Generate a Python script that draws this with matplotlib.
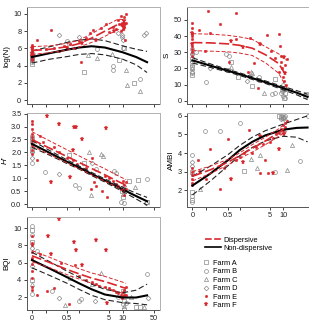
import numpy as np
import matplotlib
matplotlib.use("Agg")
import matplotlib.pyplot as plt
from matplotlib.lines import Line2D

# ---------------- data ----------------
xticks = [0, 0.1, 0.5, 1, 5, 10, 50]
xticklabels = ["0", "", "0.5", "", "5", "10", "50"]
xticklabels_right = ["0", "", "0.5", "", "5", "10", ""]

# fitted curves (distance grid)
grid_nd = [0, 0.15, 0.5, 1, 2, 4, 10, 20, 35]      # non-dispersive
grid_d = [0, 0.15, 0.5, 1, 2, 4, 8, 12]            # dispersive

logN_nd = [5.0, 5.45, 5.85, 6.1, 6.25, 6.1, 5.55, 5.0, 4.4]
logN_nd_hi = [5.7, 6.2, 6.7, 6.95, 7.1, 6.9, 6.3, 5.9, 5.65]
logN_nd_lo = [4.3, 4.75, 5.05, 5.3, 5.4, 5.25, 4.75, 4.1, 3.2]
logN_d = [5.75, 5.9, 6.2, 6.55, 7.2, 8.0, 8.8, 8.7]
logN_d_hi = [6.2, 6.3, 6.6, 6.95, 7.7, 8.6, 9.4, 9.3]
logN_d_lo = [5.3, 5.5, 5.8, 6.15, 6.7, 7.4, 8.2, 8.0]

S_nd = [25.0, 21.7, 18.6, 16.5, 14.0, 11.5, 7.8, 5.0, 2.4]
S_nd_hi = [26.6, 22.8, 19.4, 17.3, 14.8, 12.3, 8.8, 6.3, 4.1]
S_nd_lo = [23.4, 20.6, 17.8, 15.7, 13.2, 10.7, 6.8, 3.7, 0.7]
S_d = [36.0, 35.8, 35.2, 34.3, 32.5, 28.5, 23.0, 15.0]
S_d_hi = [41.5, 41.2, 40.5, 39.5, 38.0, 33.5, 29.0, 25.0]
S_d_lo = [31.0, 30.7, 30.3, 29.5, 28.0, 23.5, 17.0, 8.0]

H_nd = [2.33, 1.98, 1.64, 1.42, 1.17, 0.92, 0.58, 0.32, 0.12]
H_nd_hi = [2.46, 2.07, 1.71, 1.48, 1.23, 0.98, 0.66, 0.43, 0.27]
H_nd_lo = [2.20, 1.89, 1.57, 1.36, 1.11, 0.86, 0.50, 0.21, -0.03]
H_d = [2.50, 2.16, 1.84, 1.62, 1.38, 1.14, 0.88, 0.74]
H_d_hi = [2.80, 2.44, 2.10, 1.87, 1.62, 1.37, 1.10, 0.95]
H_d_lo = [2.25, 1.92, 1.60, 1.38, 1.14, 0.90, 0.65, 0.52]

AMBI_nd = [2.25, 2.9, 3.6, 4.15, 4.6, 4.95, 5.25, 5.35, 5.37]
AMBI_nd_hi = [2.75, 3.3, 3.9, 4.4, 4.85, 5.2, 5.55, 5.8, 6.0]
AMBI_nd_lo = [1.75, 2.5, 3.3, 3.85, 4.3, 4.65, 4.9, 4.85, 4.6]
AMBI_d = [2.75, 3.1, 3.5, 3.85, 4.25, 4.65, 5.1, 5.4]
AMBI_d_hi = [3.0, 3.3, 3.65, 4.0, 4.45, 4.85, 5.3, 5.65]
AMBI_d_lo = [2.5, 2.9, 3.35, 3.7, 4.05, 4.45, 4.9, 5.15]

BQI_nd = [6.3, 5.3, 4.3, 3.6, 2.9, 2.3, 1.95, 1.95, 2.2]
BQI_nd_hi = [7.2, 6.1, 5.0, 4.3, 3.5, 2.9, 2.5, 2.8, 3.5]
BQI_nd_lo = [5.4, 4.5, 3.6, 2.9, 2.2, 1.7, 1.35, 1.25, 1.1]
BQI_d = [6.8, 6.0, 5.2, 4.7, 4.2, 3.8, 3.3, 3.0]
BQI_d_hi = [7.4, 6.6, 5.8, 5.3, 4.8, 4.4, 3.9, 3.6]
BQI_d_lo = [6.1, 5.4, 4.6, 4.1, 3.6, 3.1, 2.6, 2.3]

# ---------- scatter points (distance, value) per farm ----------
logN_A = [(0, 4.2), (0, 4.6), (0, 5.0), (0, 5.4), (1.3, 3.3), (8.2, 4.7), (17.5, 2.0), (11, 6.1)]
logN_B = [(0, 4.4), (0, 4.8), (0, 5.2), (0.5, 6.8), (0.55, 6.6), (2.7, 5.9), (6, 3.9), (6.2, 3.55), (10, 6.0), (24, 2.4)]
logN_C = [(0, 4.9), (1.6, 5.2), (2.7, 4.85), (5.8, 5.4), (12, 3.5), (12.5, 1.8), (24.5, 1.1)]
logN_D = [(0.3, 7.5), (1.0, 7.3), (8, 7.8), (9.5, 7.6), (10, 7.0), (9.8, 7.3), (30, 7.6), (33, 7.8)]
logN_E = [(0, 6.4), (0, 6.2), (0, 6.0), (0, 5.8), (0, 5.6), (0, 5.3), (0, 5.0), (0, 4.8), (0, 4.6),
          (0.03, 7.0), (0.16, 8.1), (0.1, 5.9), (0.2, 6.1), (0.3, 5.7), (0.4, 6.3), (0.6, 6.5), (0.8, 6.0),
          (1.1, 4.45), (1.0, 6.8), (1.5, 7.2), (1.8, 7.8), (2.1, 8.1), (3.2, 8.4), (4.2, 8.8), (5, 7.9),
          (6, 8.5), (7, 8.2), (8, 9.3), (8.5, 8.8), (9, 9.8), (9.5, 9.0), (10, 8.6), (10, 8.3), (10.5, 9.6),
          (11, 8.9), (11, 8.5), (11.5, 7.0), (12, 10.0), (12, 9.0), (9, 8.0)]
logN_F = [(0, 6.1), (0, 5.5), (0, 5.1), (0.5, 6.0), (1.2, 6.6), (2.5, 7.0), (6.5, 8.0), (9.5, 8.7), (10.5, 8.4), (11, 9.2)]

S_A = [(0, 16), (0, 21), (0, 26), (0.6, 24), (0.5, 19), (0.9, 15), (2.0, 9), (6.5, 13.6), (30, 3), (33, 4), (10.5, 2), (11, 5)]
S_B = [(0, 17), (0, 22), (0, 29), (0, 32), (0.1, 11.8), (0.02, 30.3), (0.45, 29), (0.55, 28), (2.8, 15), (2.9, 13),
       (9, 5), (9.5, 6), (10, 3), (11, 2), (5.5, 4), (6.5, 4.5), (10.5, 8), (10, 10)]
S_C = [(0, 20), (0, 30), (0.62, 21), (1.9, 18), (2.0, 17), (3.8, 4.5), (10.5, 7)]
S_D = [(0, 24), (0, 18), (0.15, 20), (1.5, 12), (10, 6), (11, 8)]
S_E = [(0, 48), (0, 45), (0, 41), (0, 40), (0, 38), (0, 36), (0, 34), (0, 32), (0, 30), (0, 28),
       (0.04, 44), (0.12, 55.6), (0.15, 42), (0.09, 31), (0.3, 47.5), (0.83, 54.5), (0.8, 38.2), (0.55, 24),
       (1.6, 18), (1.76, 39), (2.2, 23.5), (2.7, 8), (4.3, 40.6), (5.3, 30.5), (6.5, 26.5), (7.9, 41),
       (8.6, 33.8), (8.8, 28), (8, 18), (9.5, 20), (10, 15), (10.5, 12), (11, 22), (11.5, 10), (12, 26), (9, 24)]
S_F = [(0, 42), (0, 35), (0.6, 37), (1.2, 33), (3, 35), (10.5, 27), (11, 17)]

H_A = [(0, 2.45), (0, 2.1), (1.3, 1.6), (0.55, 1.9), (10, 0.3), (14, 0.9), (22, 0.95), (34, 0.1), (9.5, 0.5)]
H_B = [(0, 2.55), (0, 1.6), (0, 2.65), (0.09, 1.25), (0.8, 0.75), (1.0, 0.62), (2.5, 1.35), (6.5, 1.3), (7, 1.2),
       (35, 0.97), (9, 0.1), (10.5, 0.05)]
H_C = [(0, 2.3), (1.7, 2.0), (3.2, 1.95), (3.6, 1.85), (1.9, 0.37), (19, 0.68), (10, 0.4)]
H_D = [(0, 2.0), (0, 1.8), (0.3, 1.16), (2, 1.6), (33, 0.05), (11, 0.7)]
H_E = [(0, 3.2), (0, 3.1), (0, 2.9), (0, 2.7), (0, 2.6), (0, 2.45), (0, 2.3), (0, 2.1), (0, 1.95),
       (0.03, 1.72), (0.05, 2.65), (0.08, 2.42), (0.2, 2.2), (0.3, 2.0), (0.5, 1.8), (0.7, 1.7), (0.9, 1.55),
       (1.5, 1.4), (2, 1.8), (2.2, 0.85), (2.5, 0.72), (1.9, 0.6), (3.5, 0.5), (4, 1.1), (5, 1.0), (6, 0.9),
       (7, 0.8), (8, 0.7), (9, 0.6), (10, 0.9), (10, 0.5), (11, 0.75), (11, 0.35), (12, 0.85), (12, 0.6), (4.5, 0.28)]
H_F = [(0.12, 3.41), (0.3, 3.1), (0.75, 2.97), (0.85, 2.97), (1.2, 2.52), (0.6, 1.07), (0.16, 0.87), (4.3, 2.95), (0.7, 2.1)]

AMBI_A = [(0, 3.0), (0, 1.5), (0, 1.9), (1.3, 3.05), (10, 5.2), (8, 6.0), (9, 5.95), (10, 5.9)]
AMBI_B = [(0, 3.9), (0, 1.7), (0, 1.35), (0.09, 5.2), (0.3, 5.2), (1.0, 5.62), (6.5, 3.0), (24, 3.55), (9.5, 6.0),
          (10.5, 5.95), (11, 6.0), (35, 6.0)]
AMBI_C = [(0.05, 2.05), (1.9, 3.7), (2.6, 3.2), (3.0, 3.9), (12, 3.1), (16, 4.45)]
AMBI_D = [(0, 3.3), (0, 3.5), (9, 5.85), (10, 5.9), (11, 5.8)]
AMBI_E = [(0, 3.2), (0, 3.0), (0, 2.8), (0, 2.6), (0, 2.4), (0, 2.3),
          (0.03, 3.6), (0.1, 2.6), (0.15, 4.2), (0.3, 2.05), (0.5, 4.75), (0.4, 3.2), (0.8, 3.6), (1.0, 3.8),
          (1.3, 4.0), (1.7, 5.25), (2, 4.0), (2.5, 4.3), (3, 2.95), (3.5, 4.5), (4, 3.6), (5, 4.6), (6, 4.8),
          (7, 5.0), (8, 5.1), (9, 5.3), (10, 5.2), (10, 5.5), (11, 5.6), (11, 5.4), (12, 5.7), (4.5, 2.95)]
AMBI_F = [(0.05, 3.0), (0.6, 2.6), (1.2, 3.5), (5.8, 2.9), (8, 4.2), (10.5, 5.0), (3, 4.9)]

BQI_A = [(0, 9.8), (0, 8.4), (0, 4.0), (0.6, 4.2), (10, 2.7), (11, 1.5), (20, 0.9), (24, 0.85)]
BQI_B = [(0, 10.3), (0, 2.4), (0, 9.2), (0.03, 7.4), (0.18, 2.65), (1.0, 1.6), (1.1, 1.8), (10, 1.2), (10.5, 0.6),
         (35, 4.7), (8, 2.0), (12, 1.3)]
BQI_C = [(0, 3.5), (0.45, 1.05), (3.3, 4.75), (2.0, 3.5), (11, 1.0), (15, 2.0), (30, 0.8)]
BQI_D = [(0, 5.6), (0, 7.7), (0.3, 1.9), (2.4, 1.6), (36, 1.9), (10, 2.3)]
BQI_E = [(0, 9.1), (0, 8.3), (0, 8.1), (0, 7.2), (0, 6.5), (0, 5.8), (0, 5.0), (0, 4.2), (0, 3.2), (0, 2.8),
         (0.03, 2.27), (0.2, 3.0), (0.12, 2.7), (0.05, 7.0), (0.35, 6.0), (0.8, 5.7), (1.0, 4.5), (1.5, 4.0),
         (2, 3.8), (2.5, 3.5), (3, 3.3), (4, 3.2), (5, 3.0), (6, 2.8), (7, 2.6), (8, 2.5), (9, 2.3), (10, 2.1),
         (10, 2.6), (11, 2.3), (11, 2.8), (12, 2.2), (12, 3.2), (9.5, 1.9), (0.55, 1.25)]
BQI_F = [(0.13, 9.1), (0.3, 11.1), (0.16, 6.96), (0.75, 8.4), (0.85, 7.5), (1.2, 5.7), (4.3, 7.5), (4.5, 1.3), (2.5, 8.6)]

farm_labels = ["Farm A", "Farm B", "Farm C", "Farm D", "Farm E", "Farm F"]

# ---------------- style ----------------
RED = "#d8262c"
GREY = "#8a8a8a"
FS = 5.3
plt.rcParams["font.family"] = ["Liberation Sans", "DejaVu Sans"]

farm_styles = [
    dict(marker="s", mfc="none", mec=GREY, ms=2.6, mew=0.5),
    dict(marker="o", mfc="none", mec=GREY, ms=2.8, mew=0.5),
    dict(marker="^", mfc="none", mec=GREY, ms=3.0, mew=0.5),
    dict(marker="D", mfc="none", mec=GREY, ms=2.4, mew=0.5),
    dict(marker="o", mfc=RED, mec=RED, ms=1.8, mew=0.3),
    dict(marker="*", mfc=RED, mec=RED, ms=3.6, mew=0.3),
]


def fwd(x):
    return np.log10(np.clip(np.asarray(x, dtype=float) + 0.1, 1e-6, None))


def inv(u):
    return 10 ** np.asarray(u, dtype=float) - 0.1


fig = plt.figure(figsize=(3.09, 3.28), dpi=100)

W = 133 / 309
left_x = 26.5 / 309
right_x = 187 / 309
rows = [(1 - 104 / 328, 97 / 328), (1 - 207 / 328, 94 / 328), (1 - 310 / 328, 93 / 328)]

panels = [
    dict(pos=(left_x, rows[0]), ylabel="log(N)", ylim=(-0.45, 10.8), yt=[0, 2, 4, 6, 8, 10], ytl=None,
         pts=[logN_A, logN_B, logN_C, logN_D, logN_E, logN_F],
         nd=(logN_nd, logN_nd_hi, logN_nd_lo), d=(logN_d, logN_d_hi, logN_d_lo), xl=None),
    dict(pos=(right_x, rows[0]), ylabel="S", ylim=(-2, 58), yt=[0, 10, 20, 30, 40, 50], ytl=None,
         pts=[S_A, S_B, S_C, S_D, S_E, S_F],
         nd=(S_nd, S_nd_hi, S_nd_lo), d=(S_d, S_d_hi, S_d_lo), xl=None),
    dict(pos=(left_x, rows[1]), ylabel="H'", ylim=(-0.1, 3.52), yt=[0, 0.5, 1, 1.5, 2, 2.5, 3, 3.5],
         ytl=["0.0", "0.5", "1.0", "1.5", "2.0", "2.5", "3.0", "3.5"],
         pts=[H_A, H_B, H_C, H_D, H_E, H_F],
         nd=(H_nd, H_nd_hi, H_nd_lo), d=(H_d, H_d_hi, H_d_lo), xl=None, italic=True),
    dict(pos=(right_x, rows[1]), ylabel="AMBI", ylim=(1.1, 6.15), yt=[2, 3, 4, 5, 6], ytl=None,
         pts=[AMBI_A, AMBI_B, AMBI_C, AMBI_D, AMBI_E, AMBI_F],
         nd=(AMBI_nd, AMBI_nd_hi, AMBI_nd_lo), d=(AMBI_d, AMBI_d_hi, AMBI_d_lo), xl=xticklabels_right),
    dict(pos=(left_x, rows[2]), ylabel="BQI", ylim=(0.5, 11.3), yt=[2, 4, 6, 8, 10], ytl=None,
         pts=[BQI_A, BQI_B, BQI_C, BQI_D, BQI_E, BQI_F],
         nd=(BQI_nd, BQI_nd_hi, BQI_nd_lo), d=(BQI_d, BQI_d_hi, BQI_d_lo), xl=xticklabels),
]

for p in panels:
    x0, (y0, h) = p["pos"]
    ax = fig.add_axes([x0, y0, W, h])
    ax.set_xscale("function", functions=(fwd, inv))
    ax.set_xlim(inv(-1.12), inv(1.82))
    ax.set_ylim(*p["ylim"])
    for pts, st in zip(p["pts"], farm_styles):
        xs = [a for a, b in pts]
        ys = [b for a, b in pts]
        ax.plot(xs, ys, ls="none", zorder=2, **st)
    c, hi, lo = p["nd"]
    ax.plot(grid_nd, c, color="black", lw=1.5, zorder=4)
    ax.plot(grid_nd, hi, color="#222222", lw=0.8, ls=(0, (5, 2.5)), zorder=4)
    ax.plot(grid_nd, lo, color="#222222", lw=0.8, ls=(0, (5, 2.5)), zorder=4)
    c, hi, lo = p["d"]
    ax.plot(grid_d, c, color=RED, lw=1.2, ls=(0, (6, 2)), zorder=5)
    ax.plot(grid_d, hi, color=RED, lw=0.7, ls=(0, (4, 2)), zorder=5)
    ax.plot(grid_d, lo, color=RED, lw=0.7, ls=(0, (4, 2)), zorder=5)

    ax.set_xticks(xticks)
    ax.xaxis.set_minor_locator(matplotlib.ticker.NullLocator())
    if p["xl"] is not None:
        ax.set_xticklabels(p["xl"])
    else:
        ax.set_xticklabels([""] * len(xticks))
    ax.set_yticks(p["yt"])
    if p["ytl"]:
        ax.set_yticklabels(p["ytl"])
    ax.tick_params(axis="both", labelsize=FS, length=2.2, width=0.6, pad=1.5, colors="#222222")
    for sp in ax.spines.values():
        sp.set_color("#b0b0b0")
        sp.set_linewidth(0.7)
    ax.spines["left"].set_color("#555555")
    ax.spines["bottom"].set_color("#555555")
    ax.set_ylabel(p["ylabel"], fontsize=FS + 0.5, labelpad=2,
                  fontstyle="italic" if p.get("italic") else "normal")

# ---------------- legends ----------------
line_handles = [
    Line2D([], [], color=RED, lw=1.2, ls=(0, (4, 1.5))),
    Line2D([], [], color="black", lw=1.2),
]
leg1 = fig.legend(line_handles, ["Dispersive", "Non-dispersive"], loc="upper left",
                  bbox_to_anchor=(205 / 309, 1 - 236.5 / 328), frameon=False, fontsize=FS,
                  handlelength=2.2, handletextpad=0.3, labelspacing=0.1, borderpad=0, borderaxespad=0)
farm_handles = [Line2D([], [], ls="none", **st) for st in farm_styles]
leg2 = fig.legend(farm_handles, farm_labels, loc="upper left",
                  bbox_to_anchor=(203 / 309, 1 - 259.5 / 328), frameon=False, fontsize=FS,
                  handlelength=0.9, handletextpad=0.4, labelspacing=0.18, borderpad=0, borderaxespad=0)

fig.savefig("out.png", dpi=100)
